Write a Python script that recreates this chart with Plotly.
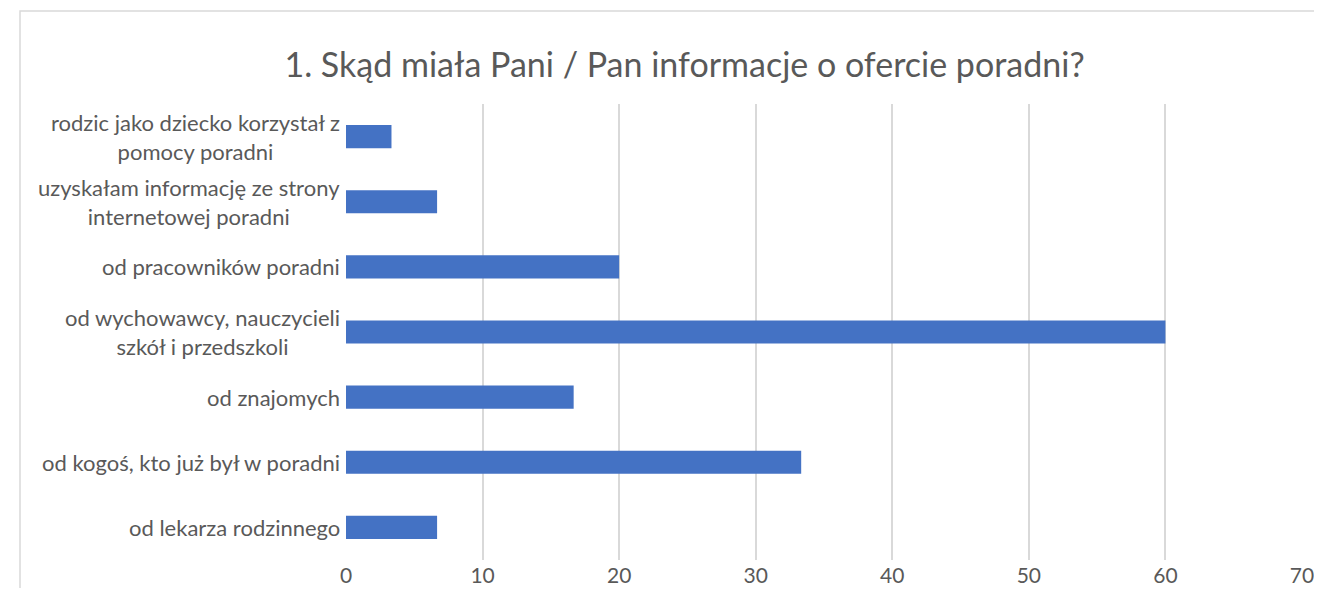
import plotly.graph_objects as go

title = "1. Skąd miała Pani / Pan informacje o ofercie poradni?"
categories = [
    "rodzic jako dziecko korzystał z<br>pomocy poradni",
    "uzyskałam informację ze strony<br>internetowej poradni",
    "od pracowników poradni",
    "od wychowawcy, nauczycieli<br>szkół i przedszkoli",
    "od znajomych",
    "od kogoś, kto już był w poradni",
    "od lekarza rodzinnego",
]
values = [3.33, 6.67, 20.0, 60.0, 16.67, 33.33, 6.67]
x_ticks = [0, 10, 20, 30, 40, 50, 60, 70]

FONT = "Lato"
GRAY = "#595959"

fig = go.Figure(go.Bar(
    y=categories, x=values, orientation="h",
    marker=dict(color="#4472c4", line=dict(width=0)),
    hoverinfo="x+y",
))

annotations = [
    dict(text=c, x=0, xref="paper", y=c, yref="y", xanchor="right", yanchor="middle",
         xshift=-4, align="center", showarrow=False,
         font=dict(family=FONT, size=22, color=GRAY))
    for c in categories
]

fig.update_layout(
    template="none",
    width=1306, height=580,
    margin=dict(l=338, r=12, t=96, b=28, autoexpand=False),
    paper_bgcolor="white", plot_bgcolor="white",
    bargap=0.645,
    showlegend=False,
    title=dict(text=title, x=0.518, xanchor="center", xref="container", y=0.902, yanchor="middle",
               font=dict(family=FONT, size=34, color=GRAY)),
    xaxis=dict(range=[0, 70], tickvals=x_ticks, showgrid=True, gridcolor="#d9d9d9", gridwidth=1.5,
               zeroline=False, showline=False, ticks="", ticklabelstandoff=1, automargin=False,
               ticklabeloverflow="allow",
               tickfont=dict(family=FONT, size=21, color=GRAY)),
    yaxis=dict(autorange="reversed", showticklabels=False, showgrid=False, zeroline=False,
               showline=False, ticks="", automargin=False),
    annotations=annotations,
    shapes=[dict(type="rect", xref="paper", yref="paper",
                 x0=-0.341, x1=1.2, y0=-0.3, y1=1.204,
                 line=dict(color="#d9d9d9", width=1.5), fillcolor="rgba(0,0,0,0)", layer="below")],
)

fig.write_html("out.html")
